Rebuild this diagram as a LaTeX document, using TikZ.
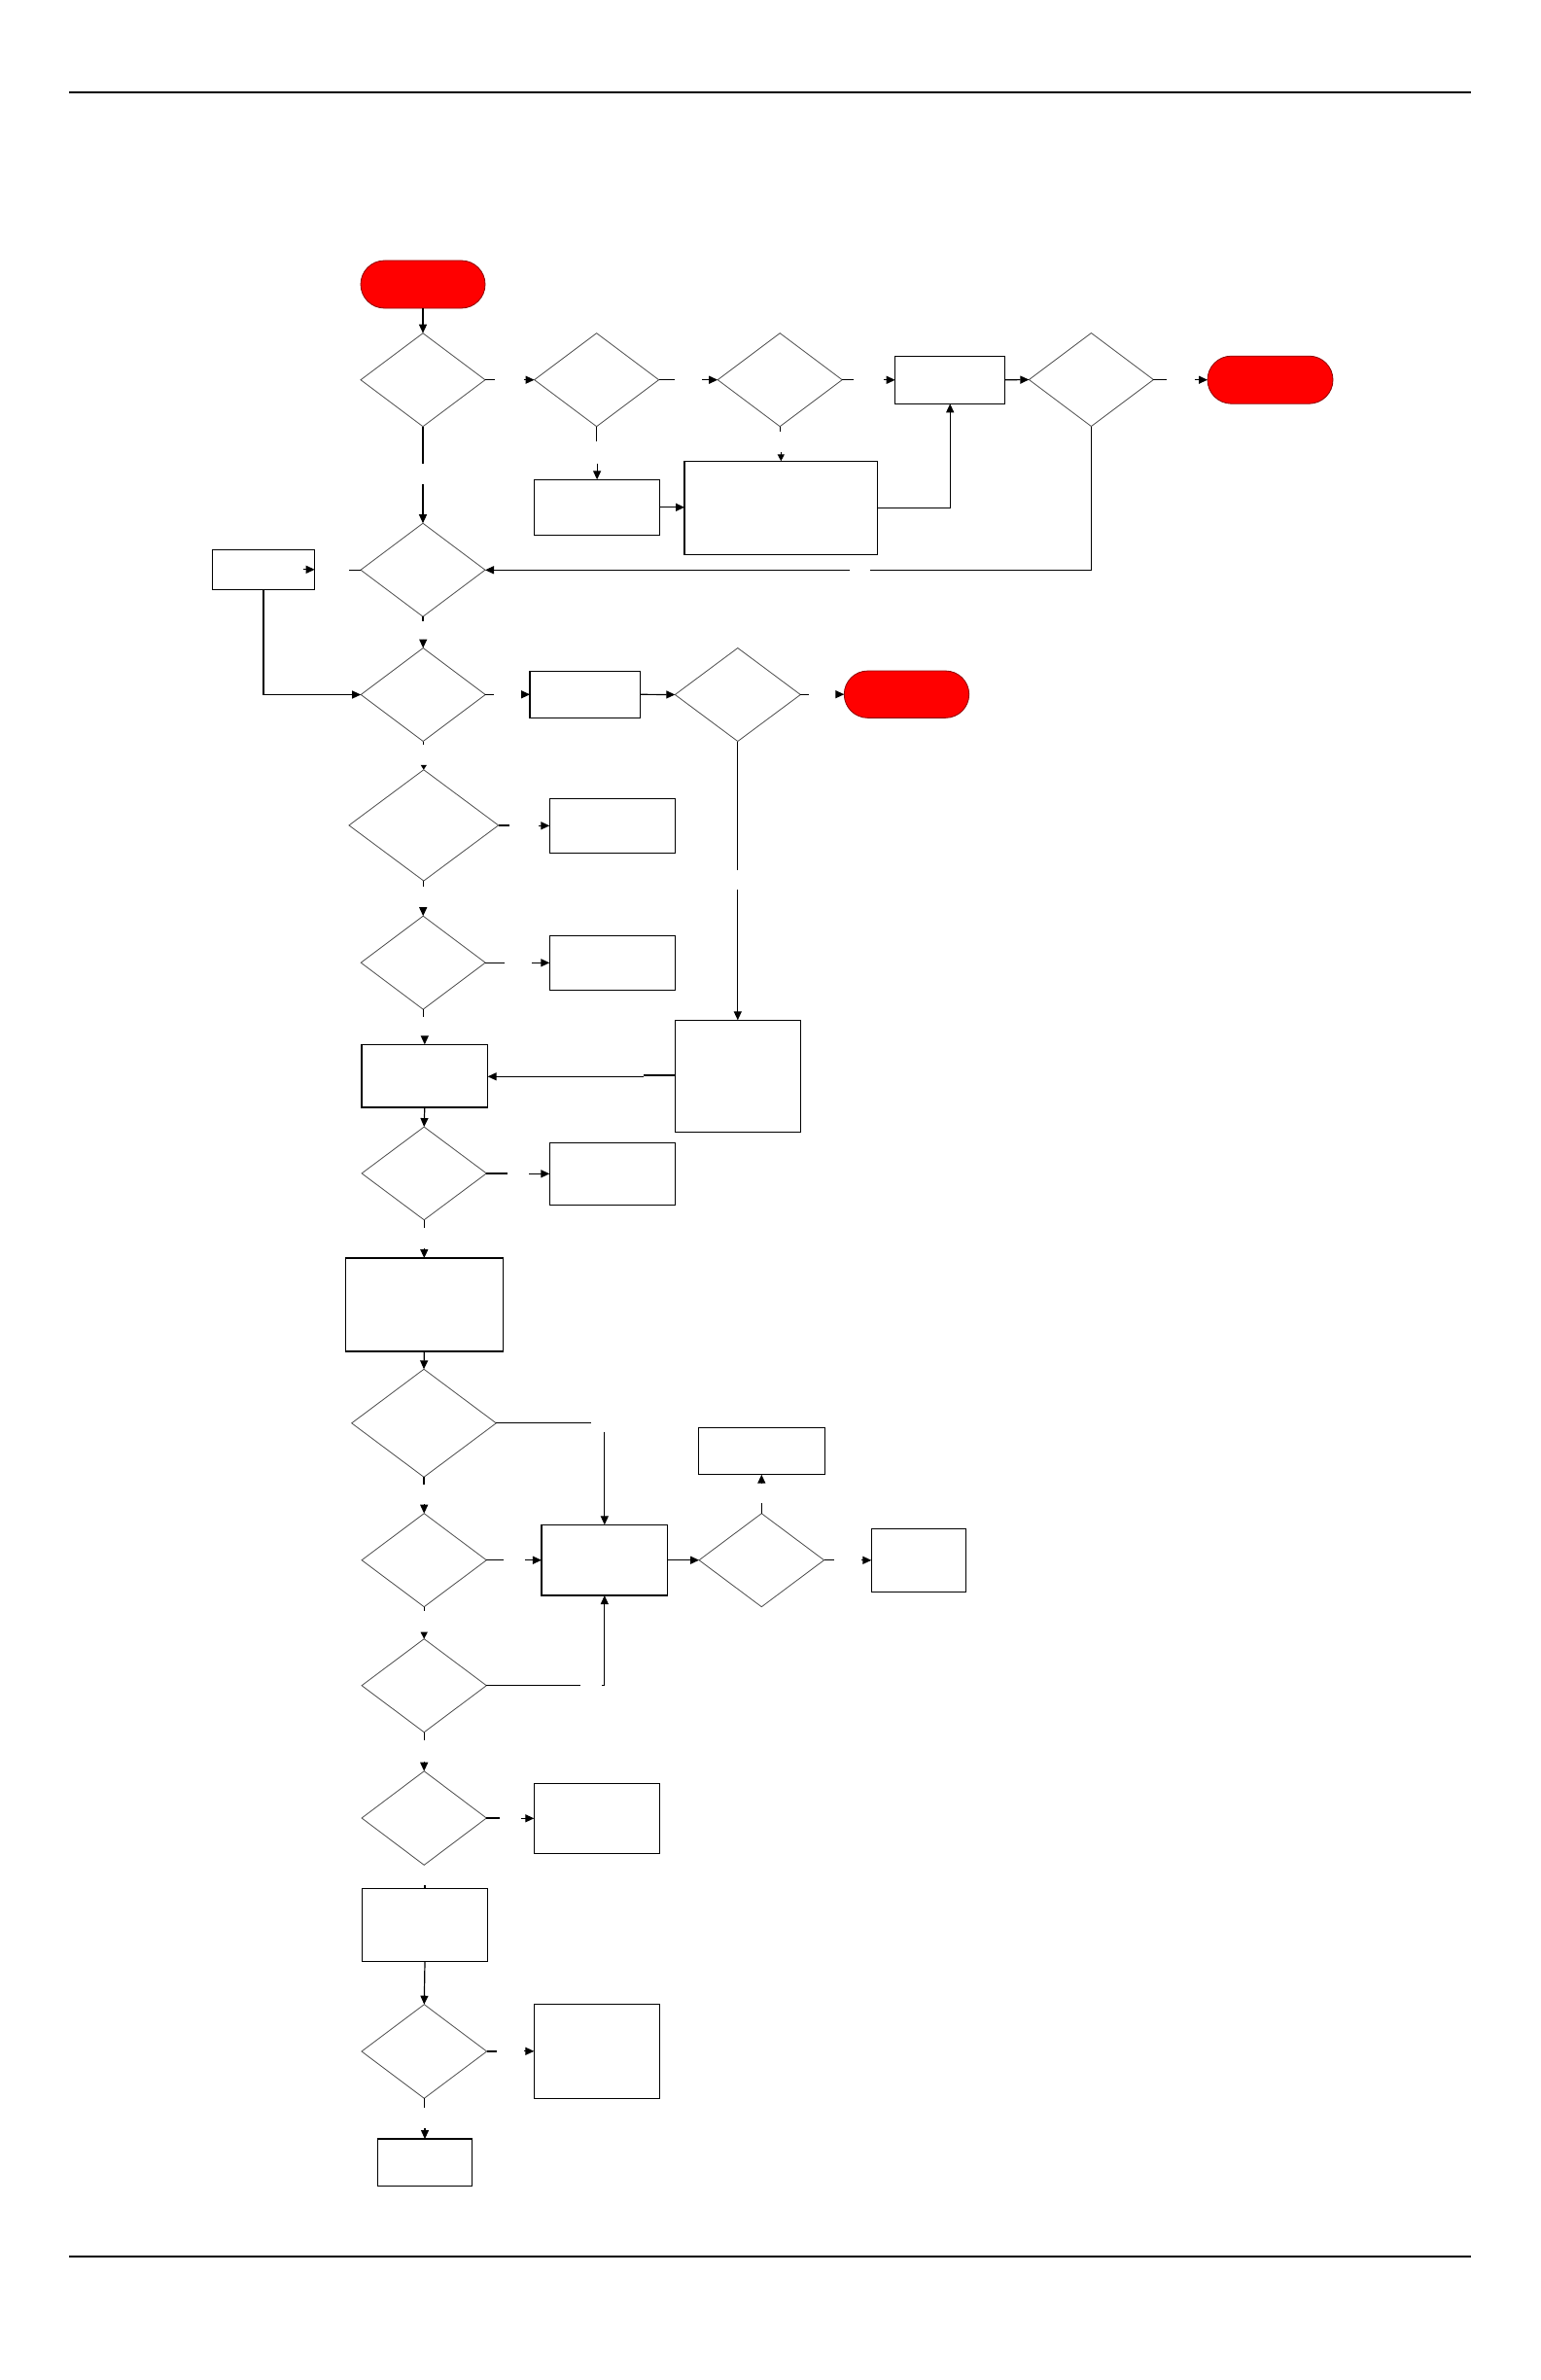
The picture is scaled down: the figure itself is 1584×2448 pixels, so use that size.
\documentclass[tikz,border=0pt]{standalone}
\usetikzlibrary{shapes.geometric,shapes.misc,arrows.meta,calc}
\begin{document}
\begin{tikzpicture}[x=1pt,y=-1pt,
  box/.style={draw=black,line width=1.2pt,rectangle,inner sep=0pt,outer sep=0pt,fill=white},
  dec/.style={draw=black!70,line width=0.8pt,diamond,inner sep=0pt,outer sep=0pt,fill=white},
  term/.style={draw=red!55!black,fill=red,line width=0.8pt,rounded rectangle,inner sep=0pt,outer sep=0pt},
  con/.style={line width=1.2pt},
  arr/.style={line width=1.2pt,-{Triangle[length=9pt,width=8pt]}},
  sarr/.style={line width=1.2pt,-{Triangle[length=5pt,width=6pt]}},
  marr/.style={line width=1.2pt,-{Triangle[length=7pt,width=7pt]}},
  rule/.style={line width=1.3pt}]
\useasboundingbox (0,0) rectangle (1584,2448);
\fill[white] (0,0) rectangle (1584,2448);

% header and footer rules
\coordinate (HL) at (71,95);
\coordinate (HR) at (1513,95);
\coordinate (FL) at (71,2321);
\coordinate (FR) at (1513,2321);
\draw[rule] (HL) -- (HR);
\draw[rule] (FL) -- (FR);

% ---- nodes ----
\node[term,minimum width=128pt,minimum height=49pt] (T1) at (435,292.5) {};
\node[dec,minimum width=128pt,minimum height=96pt] (D1) at (435,390.7) {};
\node[dec,minimum width=128pt,minimum height=96pt] (D2) at (613.6,390.7) {};
\node[dec,minimum width=128pt,minimum height=96pt] (D3) at (802.2,390.7) {};
\node[box,minimum width=113pt,minimum height=49pt] (B4) at (977.2,390.8) {};
\node[dec,minimum width=128pt,minimum height=96pt] (D5) at (1122.4,390.5) {};
\node[term,minimum width=129pt,minimum height=49pt] (T2) at (1306.5,390.7) {};
\node[box,minimum width=129pt,minimum height=57pt] (B1) at (614.1,521.8) {};
\node[box,minimum width=198.6pt,minimum height=96pt] (B2) at (803.3,522.3) {};
\node[dec,minimum width=128pt,minimum height=96pt] (D4) at (435,586.2) {};
\node[box,minimum width=105.4pt,minimum height=41pt] (B3) at (271,585.8) {};
\node[dec,minimum width=128pt,minimum height=96pt] (D6) at (435.2,714.5) {};
\node[box,minimum width=113.3pt,minimum height=48pt] (B5) at (601.7,714.3) {};
\node[dec,minimum width=129pt,minimum height=96pt] (D15) at (758.8,714.5) {};
\node[term,minimum width=128.4pt,minimum height=48.3pt] (T3) at (932.5,714.2) {};
\node[dec,minimum width=153.7pt,minimum height=114.3pt] (D7) at (435.8,848.9) {};
\node[box,minimum width=129pt,minimum height=56pt] (B7) at (629.8,849.3) {};
\node[dec,minimum width=128pt,minimum height=96pt] (D8) at (435.2,990.2) {};
\node[box,minimum width=129pt,minimum height=56pt] (B8) at (629.8,990.3) {};
\node[box,minimum width=129.7pt,minimum height=64.7pt] (B9) at (436.8,1106.7) {};
\node[box,minimum width=129pt,minimum height=115pt] (B6) at (758.8,1106.8) {};
\node[dec,minimum width=128.3pt,minimum height=95.7pt] (D9) at (436.2,1206.9) {};
\node[box,minimum width=129pt,minimum height=64pt] (B10) at (629.8,1207.3) {};
\node[box,minimum width=162pt,minimum height=96pt] (B11) at (436.3,1342) {};
\node[dec,minimum width=148.6pt,minimum height=111pt] (D10) at (436,1463.8) {};
\node[box,minimum width=130pt,minimum height=48.4pt] (B13) at (783.3,1492.5) {};
\node[dec,minimum width=128.3pt,minimum height=96pt] (D11) at (436.2,1604.7) {};
\node[box,minimum width=129.7pt,minimum height=72.7pt] (B12) at (621.8,1604.7) {};
\node[dec,minimum width=128.5pt,minimum height=96pt] (D16) at (783.3,1604.7) {};
\node[box,minimum width=97.4pt,minimum height=65pt] (B18) at (945,1604.8) {};
\node[dec,minimum width=128.3pt,minimum height=96pt] (D12) at (436.2,1733.7) {};
\node[dec,minimum width=128.3pt,minimum height=96.6pt] (D13) at (436.2,1870) {};
\node[box,minimum width=129.4pt,minimum height=72pt] (B14) at (614,1870.3) {};
\node[box,minimum width=129.4pt,minimum height=75pt] (B15) at (437,1979.8) {};
\node[dec,minimum width=128.7pt,minimum height=96.6pt] (D14) at (436.3,2110) {};
\node[box,minimum width=129.4pt,minimum height=97pt] (B16) at (614,2109.8) {};
\node[box,minimum width=97.4pt,minimum height=48.3pt] (B17) at (437,2224.2) {};

% ---- connectors ----
% top row
\draw[arr] (T1.south) -- (D1.north);
\draw[con] (D1.east) -- ++(10.4,0);
\draw[arr] ($(D2.west)+(-11,0)$) -- (D2.west);
\draw[con] (D2.east) -- ++(16.5,0);
\draw[arr] ($(D3.west)+(-16,0)$) -- (D3.west);
\draw[con] (D3.east) -- ++(12,0);
\draw[arr] ($(B4.west)+(-12,0)$) -- (B4.west);
\draw[arr] (B4.east) -- (D5.west);
\draw[con] (D5.east) -- ++(13.5,0);
\draw[arr] ($(T2.west)+(-13.5,0)$) -- (T2.west);

% verticals from top row
\draw[con] (D1.south) -- ++(0,38);
\draw[arr] ($(D4.north)+(0,-40)$) -- (D4.north);
\draw[con] (D2.south) -- ++(0,15.6);
\draw[arr] ($(B1.north)+(0,-16.6)$) -- (B1.north);
\draw[arr] (B1.east) -- (B1.east -| B2.west);
\draw[con] (D3.south) -- ++(0,5.6);
\draw[marr] ($(B2.north)+(0,-9)$) -- (B2.north);
\draw[arr] (B2.east) -| (B4.south);

% loop back from D5 to D4
\coordinate (L1) at (1122.4,586.3);
\coordinate (L2) at (895,586.3);
\coordinate (L3) at (874,586.3);
\draw[con] (D5.south) -- (L1) -- (L2);
\draw[arr] (L3) -- (L3 -| D4.east);

% D4 to B3 and back to D6
\draw[con] (D4.west) -- ++(-12.5,0);
\draw[arr] ($(B3.east)+(-12,0)$) -- (B3.east);
\draw[arr] (B3.south) |- (D6.west);
\draw[con] (D4.south) -- ++(0,4.5);
\draw[arr] ($(D6.north)+(0,-9)$) -- (D6.north);

% D6 row
\draw[con] (D6.east) -- ++(8.5,0);
\draw[arr] ($(B5.west)+(-8.3,0)$) -- (B5.west);
\draw[arr] (B5.east) -- (D15.west);
\draw[con] (D15.east) -- ++(8.4,0);
\draw[arr] ($(T3.west)+(-8.3,0)$) -- (T3.west);
\coordinate (V1) at (758.8,895);
\coordinate (V2) at (758.8,915);
\draw[con] (D15.south) -- (V1);
\draw[arr] (V2) -- (B6.north);

% D7
\draw[con] (D6.south) -- ++(0,3.4);
\draw[sarr] ($(D7.north)+(0,-5)$) -- (D7.north);
\draw[con] (D7.east) -- ++(11.6,0);
\draw[arr] ($(B7.west)+(-11,0)$) -- (B7.west);
\draw[con] (D7.south) -- ++(0,6.3);
\draw[arr] ($(D8.north)+(0,-9)$) -- (D8.north);

% D8
\draw[con] (D8.east) -- ++(19.7,0);
\draw[arr] ($(B8.west)+(-18.6,0)$) -- (B8.west);
\draw[con] (D8.south) -- ++(0,7.7);
\draw[arr] ($(B9.north)+(0,-8.5)$) -- (B9.north);
\coordinate (J1) at (662.3,1106);
\coordinate (J2) at (662.3,1107.3);
\draw[con] (B6.west |- J1) -- (J1) -- (J2);
\draw[arr] (J2) -- (J2 -| B9.east);

% D9
\draw[arr] (B9.south) -- (D9.north);
\draw[con] (D9.east) -- ++(21.4,0);
\draw[arr] ($(B10.west)+(-21.3,0)$) -- (B10.west);
\draw[con] (D9.south) -- ++(0,8);
\draw[arr] ($(B11.north)+(0,-10)$) -- (B11.north);
\draw[arr] (B11.south) -- (D10.north);

% D10 and merge box
\coordinate (M1) at (607.7,1463.8);
\coordinate (M2) at (621.8,1472.7);
\draw[con] (D10.east) -- (M1);
\draw[arr] (M2) -- (B12.north);
\draw[con] (D10.south) -- ++(0,7.4);
\draw[arr] ($(D11.north)+(0,-9.4)$) -- (D11.north);

% D11 row
\draw[con] (D11.east) -- ++(17.4,0);
\draw[arr] ($(B12.west)+(-17,0)$) -- (B12.west);
\draw[arr] (B12.east) -- (D16.west);
\draw[con] (D16.north) -- ++(0,-10.7);
\draw[arr] ($(B13.south)+(0,9)$) -- (B13.south);
\draw[con] (D16.east) -- ++(10.2,0);
\draw[arr] ($(B18.west)+(-10.6,0)$) -- (B18.west);

% D12
\draw[con] (D11.south) -- ++(0,4.6);
\draw[marr] ($(D12.north)+(0,-6.5)$) -- (D12.north);
\coordinate (N1) at (597,1733.7);
\coordinate (N2) at (619.3,1733.7);
\coordinate (N3) at (621.8,1733.7);
\draw[con] (D12.east) -- (N1);
\draw[con] (N2) -- (N3);
\draw[arr] (N3) -- (B12.south);
\draw[con] (D12.south) -- ++(0,8);
\draw[arr] ($(D13.north)+(0,-10)$) -- (D13.north);

% D13
\draw[con] (D13.east) -- ++(13.4,0);
\draw[arr] ($(B14.west)+(-13.3,0)$) -- (B14.west);
\draw[con] ($(B15.north)+(0,-3)$) -- (B15.north);
\draw[arr] (B15.south) -- (D14.north);

% D14
\draw[con] (D14.east) -- ++(10.3,0);
\draw[arr] ($(B16.west)+(-10.3,0)$) -- (B16.west);
\draw[con] (D14.south) -- ++(0,9.4);
\draw[arr] ($(B17.north)+(0,-11)$) -- (B17.north);
\end{tikzpicture}
\end{document}
